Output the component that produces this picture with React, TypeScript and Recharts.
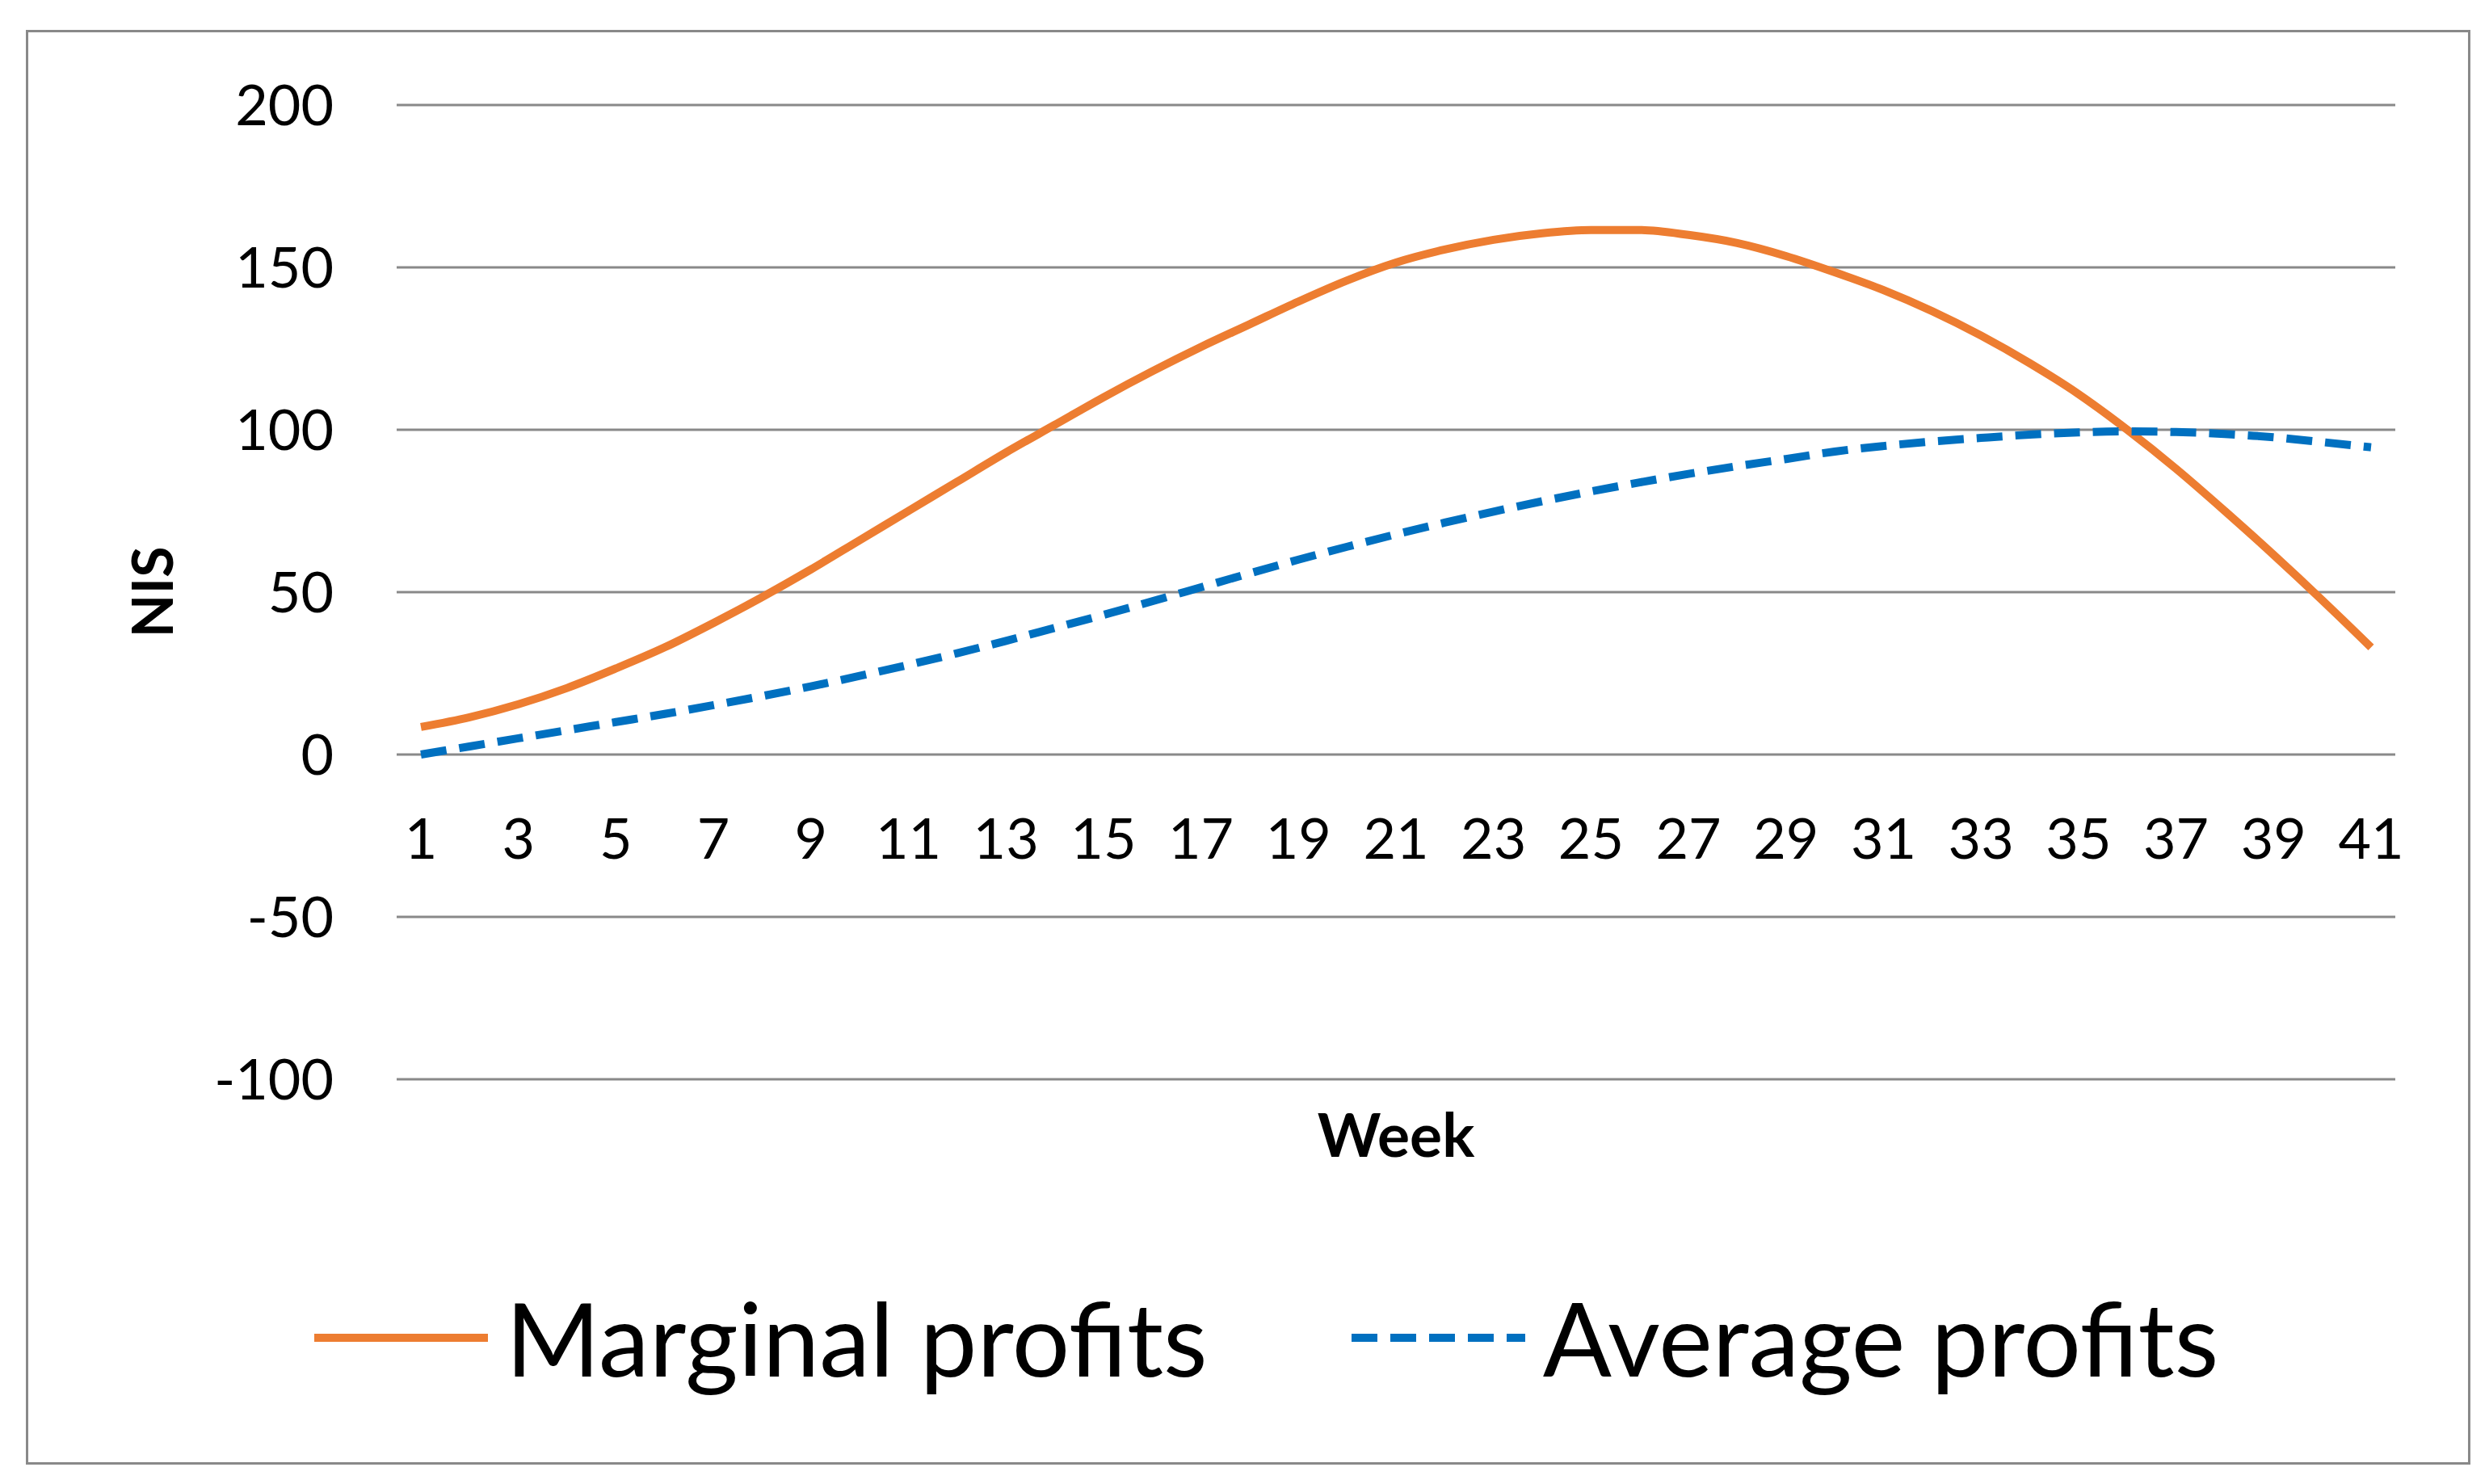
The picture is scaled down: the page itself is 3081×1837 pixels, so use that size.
import { CartesianGrid, Legend, Line, LineChart, XAxis, YAxis } from "recharts";

const WIDTH = 3081;
const HEIGHT = 1837;
const ORANGE = "#ED7D31"; // marginal
const BLUE = "#0070C0"; // average, dashed
const GRID = "#898989";
const FONT = "Lato, 'Open Sans', sans-serif";

const weeks = [
  1, 2, 3, 4, 5, 6, 7, 8, 9, 10, 11, 12, 13, 14, 15, 16, 17, 18, 19, 20, 21,
  22, 23, 24, 25, 26, 27, 28, 29, 30, 31, 32, 33, 34, 35, 36, 37, 38, 39, 40, 41,
];

const marginalProfits = [
  8.5, 11.5, 15.5, 20.5, 26.5, 33, 40.5, 48.5, 57, 66, 75, 84, 93, 101.5, 110,
  118, 125.5, 132.5, 139.5, 146, 151.5, 155.5, 158.5, 160.5, 161.5, 161.5, 160,
  157.5, 153.5, 148.5, 143, 136.5, 129, 120.5, 111, 100, 88, 75, 61.5, 47.5, 33,
];

const averageProfits = [
  0, 2.5, 5, 7.5, 10, 12.5, 15.2, 18, 21, 24.2, 27.6, 31.2, 35, 39, 43, 47.2,
  51.5, 55.8, 60, 64, 67.8, 71.4, 74.8, 78, 81, 83.8, 86.4, 88.8, 91, 93.3, 95,
  96.4, 97.5, 98.5, 99.2, 99.5, 99.3, 98.7, 97.7, 96.2, 94.6,
];

const yTicks = [-100, -50, 0, 50, 100, 150, 200];
const legendOrder = ["Marginal profits", "Average profits"];

const data = weeks.map((week, i) => ({
  week,
  marginal: marginalProfits[i],
  average: averageProfits[i],
}));

// plot box (Excel puts the category labels at y = 0, not under the plot)
const PLOT_TOP = 130;
const PLOT_BOTTOM = 1336;
const Y_MIN = -100;
const Y_MAX = 200;
const ZERO_Y = PLOT_TOP + ((PLOT_BOTTOM - PLOT_TOP) * Y_MAX) / (Y_MAX - Y_MIN);

function WeekTick({ x, payload }: { x?: number; payload?: { value: number } }) {
  return (
    <text x={x} y={ZERO_Y + 129} textAnchor="middle" fontSize={70} fontFamily={FONT} fill="#000">
      {payload?.value}
    </text>
  );
}

function WeekTitle({ viewBox }: { viewBox?: { x: number; y: number; width: number } }) {
  if (!viewBox) return null;
  return (
    <text
      x={viewBox.x + viewBox.width / 2}
      y={viewBox.y + 96}
      textAnchor="middle"
      fontSize={75}
      fontWeight="bold"
      fontFamily={FONT}
      fill="#000"
    >
      Week
    </text>
  );
}

function NisTitle({ viewBox }: { viewBox?: { x: number; y: number; height: number } }) {
  if (!viewBox) return null;
  const cx = viewBox.x + 187;
  const cy = viewBox.y + viewBox.height / 2;
  return (
    <text
      x={cx}
      y={cy}
      transform={`rotate(-90, ${cx}, ${cy})`}
      textAnchor="middle"
      dominantBaseline="central"
      fontSize={70}
      fontWeight="bold"
      fontFamily={FONT}
      fill="#000"
    >
      NIS
    </text>
  );
}

interface LegendEntry {
  value: string;
  color?: string;
  payload?: { strokeDasharray?: string };
}

function LegendContent({ payload }: { payload?: LegendEntry[] }) {
  const items = [...(payload ?? [])].sort(
    (a, b) => legendOrder.indexOf(a.value) - legendOrder.indexOf(b.value),
  );
  return (
    <div
      style={{
        display: "flex",
        alignItems: "center",
        height: 144,
        marginLeft: 389,
        fontFamily: FONT,
        fontSize: 126,
        lineHeight: "144px",
        color: "#000",
      }}
    >
      {items.map((entry, i) => (
        <div key={entry.value} style={{ display: "flex", alignItems: "center", marginLeft: i === 0 ? 0 : 178 }}>
          <svg width={215} height={12}>
            <line
              x1={0}
              y1={6}
              x2={215}
              y2={6}
              stroke={entry.color}
              strokeWidth={10}
              strokeDasharray={entry.payload?.strokeDasharray}
            />
          </svg>
          <span style={{ marginLeft: 22 }}>{entry.value}</span>
        </div>
      ))}
    </div>
  );
}

export default function App() {
  return (
    <div style={{ position: "absolute", left: 0, top: 0, width: WIDTH, height: HEIGHT, background: "#fff" }}>
      <div
        style={{
          position: "absolute",
          left: 32,
          top: 37,
          width: 3026,
          height: 1776,
          border: `3px solid ${GRID}`,
          boxSizing: "border-box",
        }}
      />
      <LineChart
        width={WIDTH}
        height={HEIGHT}
        data={data}
        margin={{ top: PLOT_TOP, right: 116, left: 0, bottom: 257 }}
      >
        <CartesianGrid horizontal vertical={false} stroke={GRID} strokeWidth={3} />
        <XAxis
          dataKey="week"
          interval={1}
          axisLine={false}
          tickLine={false}
          height={100}
          padding={{ left: 30, right: 30 }}
          tick={<WeekTick />}
          label={{ content: <WeekTitle /> }}
        />
        <YAxis
          domain={[Y_MIN, Y_MAX]}
          ticks={yTicks}
          axisLine={false}
          tickLine={false}
          tickSize={0}
          tickMargin={78}
          width={491}
          tick={{ fontSize: 70, fill: "#000", fontFamily: FONT }}
          label={{ content: <NisTitle /> }}
        />
        <Legend
          verticalAlign="bottom"
          content={<LegendContent />}
          wrapperStyle={{ top: 1584, bottom: "auto", left: 0, width: WIDTH, height: 144 }}
        />
        <Line
          type="monotone"
          dataKey="marginal"
          name="Marginal profits"
          stroke={ORANGE}
          strokeWidth={10}
          dot={false}
          activeDot={false}
          isAnimationActive={false}
        />
        <Line
          type="monotone"
          dataKey="average"
          name="Average profits"
          stroke={BLUE}
          strokeWidth={10}
          strokeDasharray="32 16"
          dot={false}
          activeDot={false}
          isAnimationActive={false}
        />
      </LineChart>
    </div>
  );
}
